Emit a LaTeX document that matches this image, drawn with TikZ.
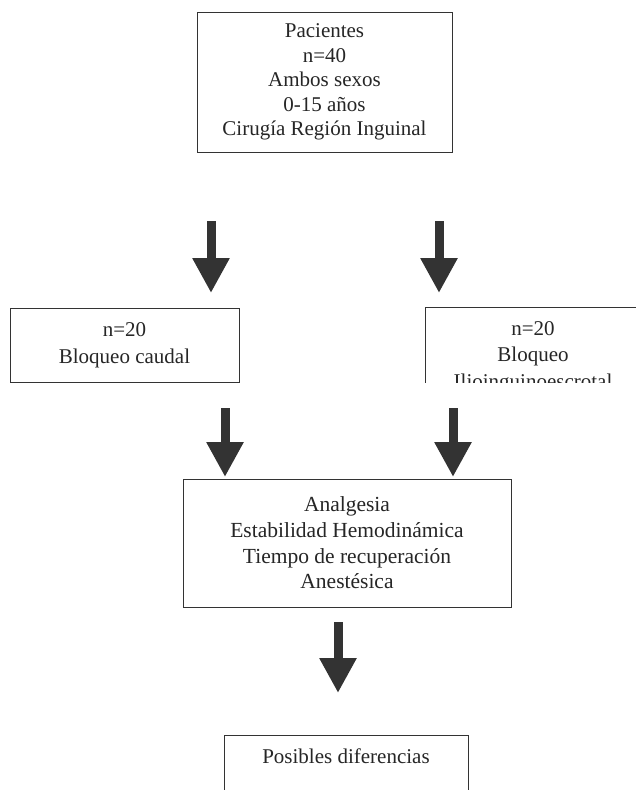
\documentclass[tikz,border=0pt]{standalone}
\usepackage{fontspec}
\setmainfont{Liberation Serif}
\usetikzlibrary{arrows.meta}
\begin{document}
\begin{tikzpicture}[x=1pt,y=-1pt,
  box/.style={draw=black!80, line width=0.9pt, align=center, inner sep=0pt, text=black!85},
  blockarrow/.style={draw=black!80, line width=9pt, -{Triangle[width=35pt,length=35pt]}, black!80}]
\useasboundingbox (0,0) rectangle (636,790);
\fill[white] (0,0) rectangle (636,790);
% top box
\node[box, minimum width=255pt, minimum height=140pt, font=\fontsize{21}{24.5}\selectfont] (top) at (324.5,82)
  {Pacientes\\n=40\\Ambos sexos\\0-15 años\\Cirugía Región Inguinal};
% arrows from top
\coordinate (a1s) at (211,221); \coordinate (a1e) at (211,293);
\coordinate (a2s) at (439,221); \coordinate (a2e) at (439,293);
\draw[blockarrow] (a1s) -- (a1e);
\draw[blockarrow] (a2s) -- (a2e);
% left box
\node[box, minimum width=229pt, minimum height=74pt, font=\fontsize{21}{27}\selectfont] (left) at (124.5,345)
  {n=20\\Bloqueo caudal};
% right box (clipped)
\begin{scope}
\clip (0,0) rectangle (636,382);
\node[box, minimum width=216pt, minimum height=100pt, font=\fontsize{21}{26.5}\selectfont] (right) at (533,357)
  {n=20\\Bloqueo\\Ilioinguinoescrotal};
\end{scope}
% arrows to middle
\coordinate (a3s) at (225,408); \coordinate (a3e) at (225,477);
\coordinate (a4s) at (453,408); \coordinate (a4e) at (453,477);
\draw[blockarrow] (a3s) -- (a3e);
\draw[blockarrow] (a4s) -- (a4e);
% middle box
\node[box, minimum width=328pt, minimum height=128pt, font=\fontsize{21.5}{25.7}\selectfont] (mid) at (347,543)
  {Analgesia\\Estabilidad Hemodinámica\\Tiempo de recuperación\\Anestésica};
% arrow to bottom
\coordinate (a5s) at (338,622); \coordinate (a5e) at (338,693);
\draw[blockarrow] (a5s) -- (a5e);
% bottom box (clipped)
\begin{scope}
\clip (0,0) rectangle (636,790);
\node[box, anchor=north, minimum width=244pt, inner ysep=6pt, text height=22pt, text depth=70pt, font=\fontsize{21}{25}\selectfont] (bot) at (346,735)
  {Posibles diferencias};
\end{scope}
\end{tikzpicture}
\end{document}
